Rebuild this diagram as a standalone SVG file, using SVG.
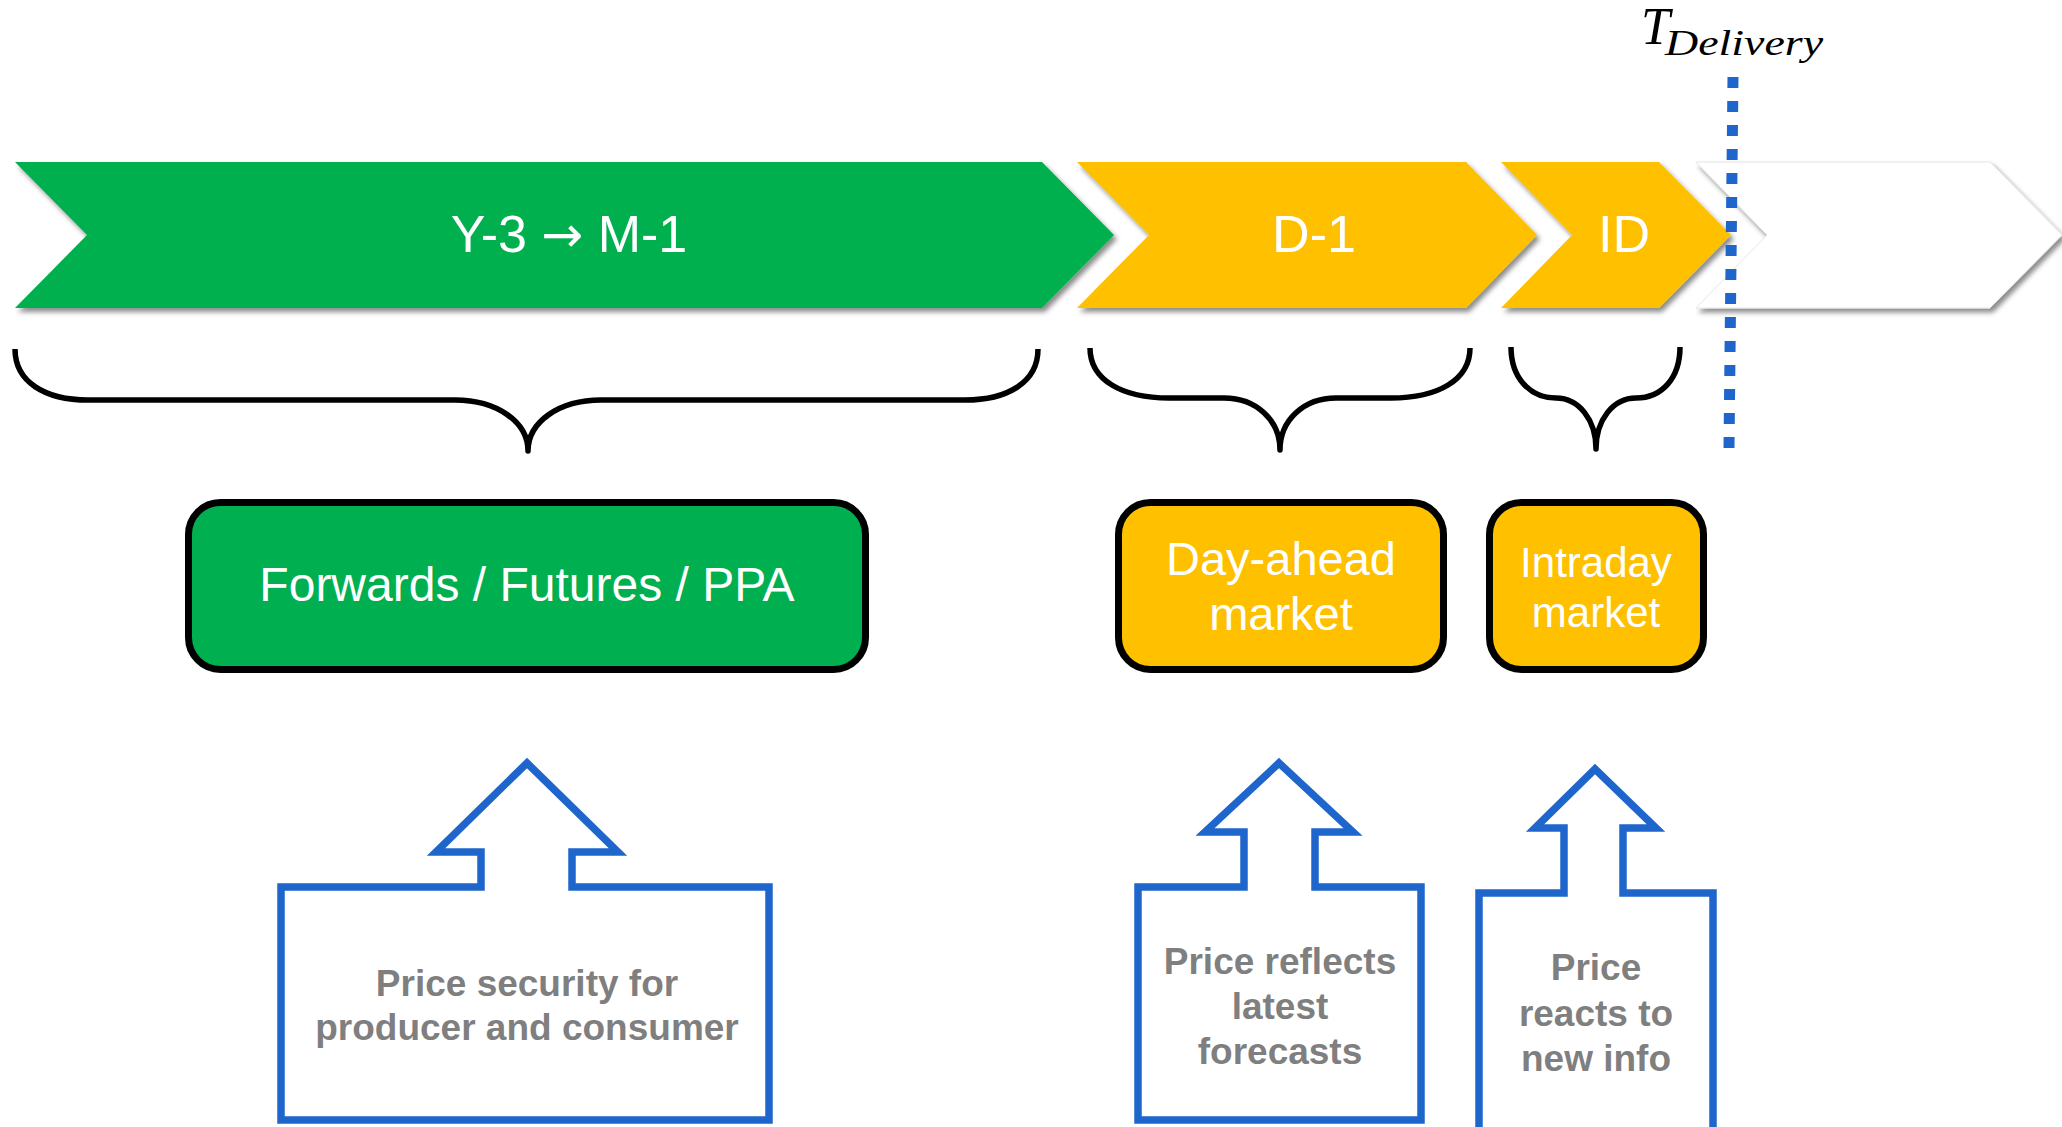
<svg xmlns="http://www.w3.org/2000/svg" width="2062" height="1127" viewBox="0 0 2062 1127">
<style>
.chev-text{font-family:"Liberation Sans",Arial,sans-serif;font-size:52px;fill:#fff;text-anchor:middle}
.box-text{font-family:"Liberation Sans",Arial,sans-serif;fill:#fff;text-anchor:middle}
.note{font-family:"Liberation Sans",Arial,sans-serif;font-size:37px;font-weight:bold;fill:#7f7f7f;text-anchor:middle}
.brace{fill:none;stroke:#000;stroke-width:5.5;stroke-linecap:butt;stroke-linejoin:round}
.callout{fill:#fff;stroke:#1f66cc;stroke-width:7.5;stroke-linejoin:miter}
.rbox{stroke:#000;stroke-width:7}
</style>
<defs>
<filter id="sh" x="-5%" y="-20%" width="110%" height="150%">
<feDropShadow dx="3" dy="4" stdDeviation="2.5" flood-color="#000" flood-opacity="0.45"/>
</filter>
</defs>
<rect width="2062" height="1127" fill="#fff"/>

<g id="chevron-forward">
<path d="M15,162 L1042,162 L1114,235 L1042,308 L15,308 L87,235 Z" fill="#00b050" filter="url(#sh)"/>
<text class="chev-text" x="569" y="252">Y-3 <tspan font-family="'DejaVu Sans',sans-serif" font-size="50">→</tspan> M-1</text>
</g>
<g id="chevron-dayahead">
<path d="M1077,162 L1466,162 L1537,235 L1466,308 L1077,308 L1149,235 Z" fill="#ffc000" filter="url(#sh)"/>
<text class="chev-text" x="1314" y="252">D-1</text>
</g>
<g id="chevron-delivery">
<path d="M1696,162 L1990,162 L2062,235 L1990,308 L1696,308 L1767,235 Z" fill="#fff" stroke="#e6e6e6" stroke-width="1" filter="url(#sh)"/>
</g>
<g id="chevron-intraday">
<path d="M1501,162 L1659,162 L1731,235 L1659,308 L1501,308 L1572,235 Z" fill="#ffc000" filter="url(#sh)"/>
<text class="chev-text" x="1624" y="252">ID</text>
</g>

<g id="t-delivery">
<text x="1641" y="44" font-family="'Liberation Serif','Times New Roman',serif" font-style="italic" font-size="52" fill="#000">T</text>
<text x="1665" y="55" font-family="'Liberation Serif','Times New Roman',serif" font-style="italic" font-size="35" fill="#000" textLength="158" lengthAdjust="spacingAndGlyphs">Delivery</text>
</g>

<g id="connectors">
<line x1="1733" y1="77" x2="1729" y2="448" stroke="#1f66cc" stroke-width="11" stroke-dasharray="11 13"/>
<path class="brace" d="M15,349 C15,382 45,400 88,400 L455,400 C497,400 528,422 528,451 C528,422 559,400 601,400 L965,400 C1008,400 1038,382 1038,349"/>
<path class="brace" d="M1090,348 C1090,380 1122,398 1169,398 L1224,398 C1256,398 1280,420 1280,450 C1280,420 1304,398 1336,398 L1391,398 C1438,398 1470,380 1470,348"/>
<path class="brace" d="M1511,347 C1511,378 1530,398 1556,398 C1579,398 1596,420 1596,449 C1596,420 1613,398 1636,398 C1662,398 1680,378 1680,347"/>
</g>

<g id="box-forwards">
<rect class="rbox" x="188.5" y="502.5" width="677" height="167" rx="32" fill="#00b050"/>
<text class="box-text" x="527" y="601" font-size="48">Forwards / Futures / PPA</text>
</g>
<g id="box-dayahead">
<rect class="rbox" x="1118.5" y="502.5" width="325" height="167" rx="32" fill="#ffc000"/>
<text class="box-text" x="1281" y="575" font-size="47">Day-ahead</text>
<text class="box-text" x="1281" y="630" font-size="47">market</text>
</g>
<g id="box-intraday">
<rect class="rbox" x="1489.5" y="502.5" width="214" height="167" rx="32" fill="#ffc000"/>
<text class="box-text" x="1596" y="577" font-size="42">Intraday</text>
<text class="box-text" x="1596" y="627" font-size="42">market</text>
</g>

<g id="callout-security">
<path class="callout" d="M527,763 L618,852 L572,852 L572,887 L769,887 L769,1120 L281,1120 L281,887 L481,887 L481,852 L436,852 Z"/>
<text class="note" x="527" y="996">Price security for</text>
<text class="note" x="527" y="1040">producer and consumer</text>
</g>
<g id="callout-forecasts">
<path class="callout" d="M1279,763 L1353,832 L1315,832 L1315,887 L1421,887 L1421,1120 L1138,1120 L1138,887 L1244,887 L1244,832 L1205,832 Z"/>
<text class="note" x="1280" y="974">Price reflects</text>
<text class="note" x="1280" y="1019">latest</text>
<text class="note" x="1280" y="1064">forecasts</text>
</g>
<g id="callout-newinfo">
<path class="callout" d="M1595,769 L1656,828 L1623,828 L1623,893 L1713,893 L1713,1134 L1479,1134 L1479,893 L1564,893 L1564,828 L1535,828 Z"/>
<text class="note" x="1596" y="980">Price</text>
<text class="note" x="1596" y="1026">reacts to</text>
<text class="note" x="1596" y="1071">new info</text>
</g>
</svg>
